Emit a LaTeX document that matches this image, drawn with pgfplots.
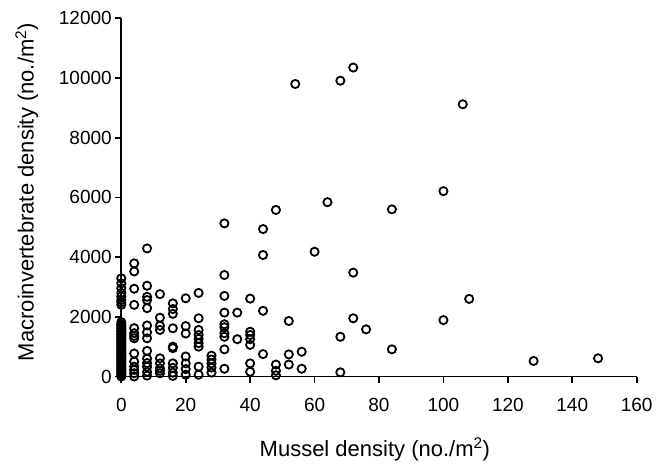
\documentclass[border=0pt]{standalone}
\usepackage{fontspec}
\setmainfont{Liberation Sans}
\usepackage{pgfplots}
\pgfplotsset{compat=1.18}

\begin{document}
\begin{tikzpicture}
\begin{axis}[
    scale only axis,
    width=515.4pt, height=358.2pt,
    xmin=0, xmax=160, ymin=0, ymax=12000,
    axis x line*=bottom, axis y line*=left,
    axis line style={-, line width=1.8pt},
    xtick={0,20,...,160},
    ytick={0,2000,...,12000},
    tick align=outside,
    major tick length=6pt,
    tick style={line width=1.6pt, black},
    scaled y ticks=false,
    /pgf/number format/assume math mode=true,
    yticklabel style={/pgf/number format/.cd, fixed, 1000 sep={}},
    xticklabel style={yshift=-12pt},
    ticklabel style={font=\fontsize{19}{22}\selectfont},
    every axis x label/.style={at={(axis description cs:0.492,-0.222)}, anchor=base},
    every axis y label/.style={at={(axis description cs:-0.170,0.515)}, rotate=90, anchor=base},
    label style={font=\fontsize{22}{26}\selectfont},
    xlabel={Mussel density (no./m\textsuperscript{2})},
    ylabel={Macroinvertebrate density (no./m\textsuperscript{2})},
]
% mussel density vs macroinvertebrate density
\addplot[only marks, mark=o, mark size=4.1pt, line width=1.8pt, black] coordinates {
(0,0) (0,50) (0,100) (0,150) (0,200) (0,250) (0,300) (0,350) (0,400) (0,450)
(0,500) (0,550) (0,600) (0,650) (0,700) (0,750) (0,800) (0,850) (0,900) (0,950)
(0,1000) (0,1050) (0,1100) (0,1150) (0,1200) (0,1250) (0,1300) (0,1350) (0,1400)
(0,1450) (0,1500) (0,1550) (0,1600) (0,1650) (0,1700) (0,1750) (0,1820)
(0,2400) (0,2480) (0,2560) (0,2680) (0,2800) (0,2960) (0,3120) (0,3290)
(4,0) (4,110) (4,220) (4,330) (4,500) (4,770) (4,1280) (4,1360) (4,1450) (4,1620) (4,2400) (4,2940) (4,3520) (4,3790)
(8,30) (8,160) (8,330) (8,450) (8,600) (8,860) (8,1280) (8,1480) (8,1710) (8,2290) (8,2560) (8,2670) (8,3040) (8,4290)
(12,107) (12,190) (12,275) (12,440) (12,610) (12,1560) (12,1700) (12,1970) (12,2760)
(16,20) (16,130) (16,290) (16,440) (16,950) (16,1000) (16,1615) (16,2100) (16,2260) (16,2450)
(20,60) (20,250) (20,440) (20,670) (20,1440) (20,1690) (20,2620)
(24,60) (24,330) (24,1000) (24,1120) (24,1260) (24,1390) (24,1560) (24,1950) (24,2800)
(28,130) (28,300) (28,440) (28,570) (28,700)
(32,260) (32,910) (32,1330) (32,1450) (32,1650) (32,1750) (32,2140) (32,2700) (32,3400) (32,5130)
(36,1250) (36,2140)
(40,160) (40,440) (40,1060) (40,1250) (40,1390) (40,1500) (40,2610)
(44,750) (44,2200) (44,4070) (44,4940)
(48,40) (48,190) (48,400) (48,5580)
(52,400) (52,740) (52,1860)
(54,9800)
(56,260) (56,830)
(60,4180)
(64,5840)
(68,140) (68,1330) (68,9910)
(72,1950) (72,3480) (72,10350)
(76,1580)
(84,910) (84,5600)
(100,1890) (100,6210)
(106,9120)
(108,2600)
(128,520)
(148,610)
};
\end{axis}
\path (-121.3pt,-86.5pt) rectangle (542.7pt,376.5pt);
\end{tikzpicture}
\end{document}
